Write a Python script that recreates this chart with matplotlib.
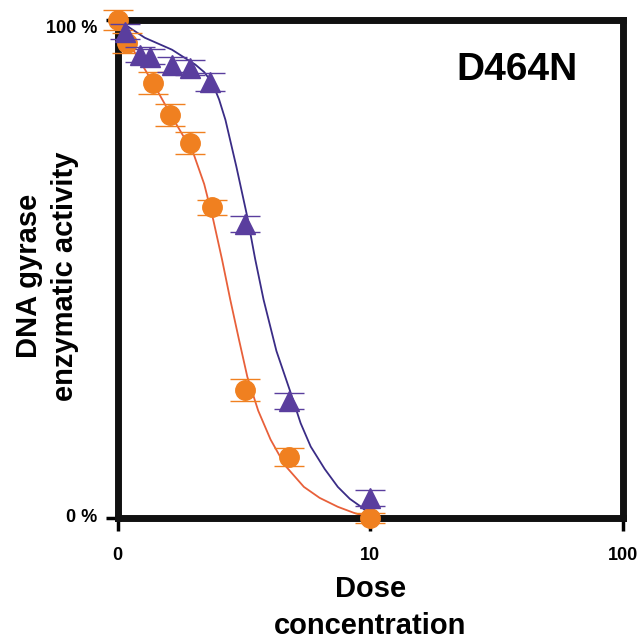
import matplotlib
matplotlib.use("Agg")
from matplotlib import pyplot as plt
import numpy as np

plt.rcParams['font.family'] = ['Liberation Sans', 'DejaVu Sans']

# measured points (dose, activity %)
wt_dose = [1.0, 1.09, 1.38, 1.61, 1.94, 2.37, 3.2, 4.76, 10.0]
wt_act = [100, 95.4, 87.3, 80.9, 75.3, 62.4, 25.7, 12.2, 0.0]
wt_err = [2.0, 2.0, 2.2, 2.2, 2.2, 1.5, 2.2, 1.8, 1.0]

mut_dose = [1.07, 1.22, 1.34, 1.64, 1.94, 2.32, 3.2, 4.76, 10.0]
mut_act = [97.6, 93.0, 92.6, 91.0, 90.4, 87.6, 59.0, 23.5, 4.0]
mut_err = [1.5, 1.5, 1.5, 1.5, 1.5, 1.8, 1.6, 1.6, 1.6]

# fitted curves
wt_fit_dose = [1.0, 1.12, 1.38, 1.64, 1.99, 2.2, 2.39, 2.59, 2.79, 3.02, 3.26, 3.6, 4.03,
               4.6, 5.46, 6.3, 7.44, 8.6, 10.0]
wt_fit_act = [100, 95.0, 87.3, 80.5, 73.3, 67.0, 59.8, 51.8, 43.8, 35.8, 28.3, 21.5, 15.7,
              10.5, 6.2, 4.0, 2.2, 1.0, 0.0]

mut_fit_dose = [1.0, 1.28, 1.64, 2.03, 2.2, 2.37, 2.52, 2.67, 2.95, 3.26, 3.5, 3.78, 4.25,
                4.84, 5.3, 5.81, 6.6, 7.44, 8.3, 9.2, 10.0]
mut_fit_act = [100, 96.4, 94.0, 91.0, 89.5, 87.3, 84.0, 79.9, 70.5, 60.4, 52.0, 43.8, 33.5,
               25.1, 19.0, 14.3, 9.8, 6.2, 3.8, 2.2, 0.6]

xticks = [1, 10, 100]
xticklabels = ['0', '10', '100']
yticks = [0, 100]
yticklabels = ['0 %', '100 %']

orange = '#F08020'
orange_line = '#E8603A'
purple = '#5A3E9E'
purple_line = '#3A2C86'

fig = plt.figure(figsize=(6.4, 6.4), dpi=100)
ax = fig.add_axes([0.184, 0.191, 0.789, 0.778])

ax.plot(wt_fit_dose, wt_fit_act, color=orange_line, lw=1.3, zorder=2)
ax.plot(mut_fit_dose, mut_fit_act, color=purple_line, lw=1.3, zorder=2)

ax.errorbar(wt_dose, wt_act, yerr=wt_err, fmt='o', color=orange, ms=14,
            ecolor=orange, elinewidth=1, capsize=11, capthick=1, clip_on=False, zorder=3)
ax.errorbar(mut_dose, mut_act, yerr=mut_err, fmt='^', color=purple, ms=14,
            ecolor=purple, elinewidth=1, capsize=11, capthick=1, clip_on=False, zorder=4)

ax.set_xscale('log')
ax.set_xlim(1, 100)
ax.set_ylim(0, 100)
ax.set_xticks(xticks)
ax.set_xticklabels(xticklabels)
ax.minorticks_off()
ax.set_yticks(yticks)
ax.set_yticklabels(yticklabels, va='top')
ax.tick_params(axis='both', direction='out', length=9, width=2.5)
ax.tick_params(axis='x', pad=12)
ax.tick_params(axis='y', pad=6)
for lbl in ax.get_xticklabels():
    lbl.set_fontsize(13)
    lbl.set_fontweight('bold')
for lbl in ax.get_yticklabels():
    lbl.set_fontsize(13)
    lbl.set_fontweight('bold')
ax.get_yticklabels()[0].set_va('center')

for sp in ax.spines.values():
    sp.set_linewidth(5)
    sp.set_color('#111111')

ax.set_xlabel('Dose\nconcentration', fontsize=21, fontweight='bold', labelpad=8, linespacing=1.42)
fig.text(47 / 640, 1 - 276 / 640, 'DNA gyrase\nenzymatic activity', fontsize=21,
         fontweight='bold', rotation=90, ha='center', va='center', linespacing=1.35)

ax.text(0.79, 0.9, 'D464N', transform=ax.transAxes, fontsize=28, fontweight='bold',
        ha='center', va='center')

fig.savefig('out.png', dpi=100)
